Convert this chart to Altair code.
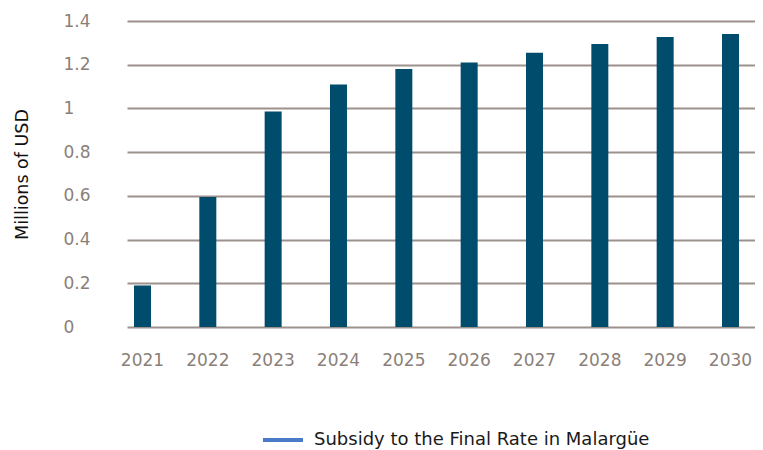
import altair as alt
import pandas as pd

years = ["2021", "2022", "2023", "2024", "2025", "2026", "2027", "2028", "2029", "2030"]
values = [0.19, 0.595, 0.986, 1.11, 1.18, 1.21, 1.255, 1.295, 1.327, 1.34]
series = "Subsidy to the Final Rate in Malargüe"
y_ticks = [0, 0.2, 0.4, 0.6, 0.8, 1.0, 1.2, 1.4]

df = pd.DataFrame({"year": years, "value": values, "series": [series] * len(years)})

FONT = "DejaVu Sans"
LABEL = "#8b7f79"
GRID = "#9c918c"

chart = alt.Chart(df).mark_bar(color="#004c6d").encode(
    x=alt.X("year:N", sort=years, title=None,
            scale=alt.Scale(paddingInner=0.74, paddingOuter=0.176, align=0.304),
            axis=alt.Axis(labelAngle=0, domain=False, ticks=False, grid=False,
                          labelPadding=25, labelColor=LABEL, labelFontSize=17, labelFont=FONT)),
    y=alt.Y("value:Q", title="Millions of USD",
            scale=alt.Scale(domain=[0, 1.4], nice=False),
            axis=alt.Axis(values=y_ticks, labelExpr="datum.value == 0 ? '0' : format(datum.value, '.1~f')",
                          domain=False, ticks=False, grid=True, gridColor=GRID, gridWidth=2,
                          labelAlign="left", labelPadding=64, labelColor=LABEL, labelFontSize=17,
                          labelFont=FONT, titleFont=FONT, titleFontSize=17.5, titleFontWeight="normal",
                          titleColor="#111111", titlePadding=32)),
    color=alt.Color("series:N", scale=alt.Scale(range=["#004c6d"]),
                    legend=alt.Legend(title=None, orient="none", legendX=134, legendY=397,
                                      symbolType="M-1,0H1", symbolSize=1600,
                                      symbolStrokeWidth=4, symbolStrokeColor="#4a7bc8",
                                      symbolFillColor="#4a7bc8",
                                      labelFont=FONT, labelFontSize=18, labelColor="#1a1a1a",
                                      labelOffset=9, labelLimit=600)),
).properties(
    width=628, height=306,
    autosize=alt.AutoSizeParams(type="none"),
    padding={"left": 119, "top": 13, "right": 0, "bottom": 122},
).configure_view(stroke=None)

chart.save("out.html", embed_options={"renderer": "svg", "actions": False})
